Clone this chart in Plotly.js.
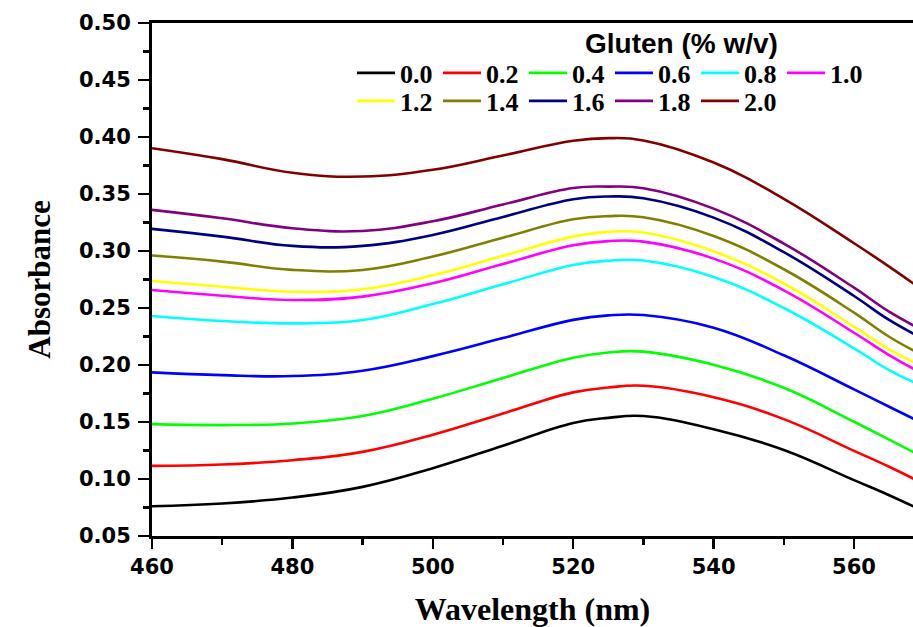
<!DOCTYPE html>
<html><head><meta charset="utf-8">
<script src="https://cdn.plot.ly/plotly-3.0.1.min.js"></script>
<style>html,body{margin:0;padding:0;background:#fff}#chart{width:913px;height:627px}</style>
</head><body><div id="chart"></div>
<script>
// Wavelength (nm)
const wavelength = [460,470,480,490,500,510,520,525,530,540,550,560,565,569];
// Gluten concentration labels (% w/v)
const gluten = ['0.0','0.2','0.4','0.6','0.8','1.0','1.2','1.4','1.6','1.8','2.0'];
// Absorbance per concentration
const abs00 = [0.0761,0.0785,0.0837,0.0931,0.1095,0.1292,0.1492,0.1536,0.1552,0.1437,0.1255,0.0990,0.0858,0.0744];
const abs02 = [0.1115,0.1127,0.1165,0.1238,0.1388,0.1575,0.1760,0.1802,0.1818,0.1718,0.1525,0.1247,0.1107,0.0986];
const abs04 = [0.1481,0.1473,0.1487,0.1552,0.1704,0.1886,0.2064,0.2110,0.2117,0.2002,0.1800,0.1502,0.1346,0.1219];
const abs06 = [0.1935,0.1911,0.1903,0.1950,0.2078,0.2236,0.2396,0.2435,0.2438,0.2327,0.2085,0.1786,0.1634,0.1513];
const abs08 = [0.2430,0.2386,0.2365,0.2395,0.2535,0.2708,0.2878,0.2915,0.2916,0.2772,0.2500,0.2146,0.1955,0.1835];
const abs10 = [0.2658,0.2608,0.2570,0.2600,0.2717,0.2886,0.3050,0.3087,0.3082,0.2933,0.2655,0.2283,0.2087,0.1949];
const abs12 = [0.2737,0.2687,0.2643,0.2664,0.2787,0.2958,0.3126,0.3168,0.3162,0.2997,0.2715,0.2336,0.2137,0.2010];
const abs14 = [0.2960,0.2907,0.2834,0.2834,0.2951,0.3117,0.3278,0.3306,0.3296,0.3132,0.2840,0.2459,0.2248,0.2110];
const abs16 = [0.3194,0.3126,0.3045,0.3045,0.3141,0.3299,0.3454,0.3478,0.3463,0.3293,0.2990,0.2605,0.2395,0.2257];
const abs18 = [0.3361,0.3287,0.3200,0.3176,0.3261,0.3408,0.3553,0.3565,0.3551,0.3372,0.3065,0.2678,0.2468,0.2330];
const abs20 = [0.3902,0.3806,0.3686,0.3653,0.3712,0.3838,0.3967,0.3990,0.3970,0.3776,0.3458,0.3068,0.2863,0.2691];
const xTicks = [460,480,500,520,540,560];
const yTicks = [0.05,0.10,0.15,0.20,0.25,0.30,0.35,0.40,0.45,0.50];

const series = [abs00,abs02,abs04,abs06,abs08,abs10,abs12,abs14,abs16,abs18,abs20];
const colors = ['#000000','#FF0000','#00FF00','#0000FF','#00FFFF','#FF00FF','#FFFF00','#808000','#000080','#800080','#800000'];

const traces = series.map((ys, i) => ({
  x: wavelength, y: ys, name: gluten[i], type: 'scatter', mode: 'lines',
  line: {color: colors[i], width: 2.6, shape: 'spline', smoothing: 1.2},
  legend: i < 6 ? 'legend' : 'legend2',
  hoverinfo: 'x+y+name'
}));

const tickFont = {family: 'DejaVu Sans, Liberation Sans, Arial, sans-serif', size: 21, weight: 'bold', color: '#000'};
const legFont = {family: 'Liberation Serif, Times New Roman, serif', size: 26, weight: 'bold', color: '#000'};

const legendBase = {orientation: 'h', xanchor: 'left', yanchor: 'middle', x: 0.2628,
  font: legFont, itemwidth: 38, entrywidth: 33, bgcolor: 'rgba(0,0,0,0)', borderwidth: 0,
  traceorder: 'normal', itemclick: false, itemdoubleclick: false};

const layout = {
  width: 913, height: 627,
  margin: {l: 152, r: 0, t: 23, b: 91},
  paper_bgcolor: '#fff', plot_bgcolor: '#fff',
  showlegend: true,
  xaxis: {
    range: [460, 568.4], tickvals: xTicks, ticks: 'outside', ticklen: 10, tickwidth: 2.5, tickcolor: '#000',
    showline: true, linewidth: 3, linecolor: '#000', mirror: true, showgrid: false, zeroline: false,
    minor: {dtick: 10, tick0: 460, ticks: 'outside', ticklen: 6, tickwidth: 2.5, tickcolor: '#000', showgrid: false},
    tickfont: tickFont,
    title: {text: 'Wavelength (nm)', font: {family: 'Liberation Serif, Times New Roman, serif', size: 32, weight: 'bold', color: '#000'}, standoff: 22}
  },
  yaxis: {
    range: [0.05, 0.50], tickvals: yTicks, tickformat: '.2f', ticks: 'outside', ticklen: 11, tickwidth: 2.5, tickcolor: '#000',
    showline: true, linewidth: 3, linecolor: '#000', mirror: false, showgrid: false, zeroline: false,
    minor: {dtick: 0.025, tick0: 0.05, ticks: 'outside', ticklen: 6, tickwidth: 2.5, tickcolor: '#000', showgrid: false},
    tickfont: tickFont, ticklabelstandoff: 3,
    title: {text: 'Absorbance', font: {family: 'Liberation Serif, Times New Roman, serif', size: 31, weight: 'bold', color: '#000'}, standoff: 20}
  },
  legend: Object.assign({}, legendBase, {y: 0.9025}),
  legend2: Object.assign({}, legendBase, {y: 0.848}),
  annotations: [{
    text: 'Gluten (% w/v)', xref: 'paper', yref: 'paper', x: 0.6958, y: 0.961, xanchor: 'center', yanchor: 'middle',
    showarrow: false, font: {family: 'Liberation Sans, Arial, sans-serif', size: 28, weight: 'bold', color: '#000'}
  }]
};

Plotly.newPlot('chart', traces, layout, {staticPlot: true, displayModeBar: false});
</script>
</body></html>
